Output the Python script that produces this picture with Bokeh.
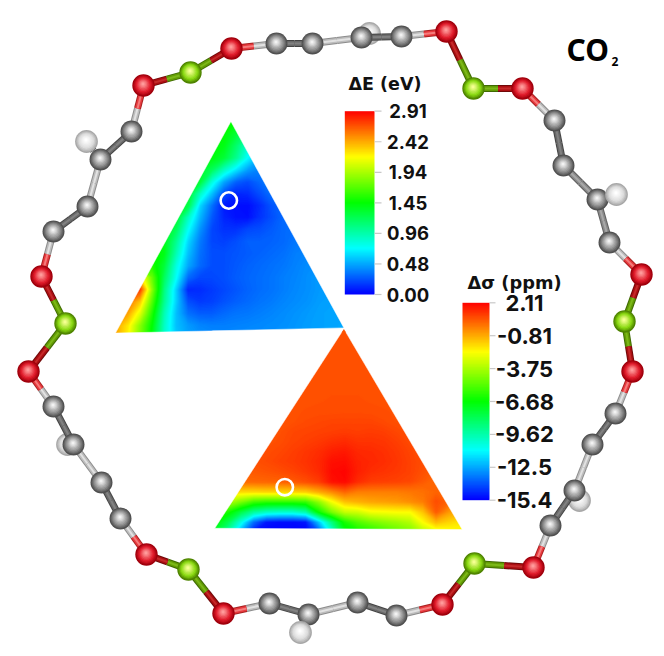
import numpy as np
from bokeh.plotting import figure
from bokeh.models import Range1d, LinearColorMapper
from bokeh.core.properties import value
from bokeh.embed import file_html
from bokeh.resources import INLINE

# ---- energy map (eV), rows top to bottom
e_x0, e_y0, e_dx, e_dy = 115, 121, 12.03, 12
e_rows = [
 [1.45]*10 + [1.45, 1.35, 1.2, 1.1, 1.0, 1.0, 1.0, 1.0, 1.0, 1.0],
 [1.45]*9 + [1.45, 1.30, 1.1, 1.0, 0.9, 0.9, 0.9, 0.9, 0.9, 0.9, 0.9],
 [1.45]*8 + [1.45, 1.40, 1.15, 0.85, 0.7, 0.7, 0.7, 0.7, 0.7, 0.7, 0.7, 0.7],
 [1.45]*8 + [1.42, 1.30, 1.05, 0.72, 0.50, 0.45, 0.45, 0.45, 0.45, 0.45, 0.45, 0.45],
 [1.45]*7 + [1.35, 1.20, 0.90, 0.66, 0.45, 0.37, 0.38, 0.38, 0.38, 0.38, 0.38, 0.38, 0.38],
 [1.4]*7 + [1.30, 0.82, 0.48, 0.28, 0.22, 0.30, 0.38, 0.38, 0.38, 0.38, 0.38, 0.38, 0.38],
 [1.4]*6 + [1.35, 0.90, 0.55, 0.22, 0.10, 0.12, 0.22, 0.32, 0.35, 0.35, 0.35, 0.35, 0.35, 0.35],
 [1.35]*6 + [1.25, 0.62, 0.32, 0.07, 0.04, 0.03, 0.12, 0.24, 0.30, 0.33, 0.33, 0.33, 0.33, 0.33],
 [1.4]*5 + [1.35, 0.90, 0.52, 0.25, 0.10, 0.05, 0.04, 0.14, 0.22, 0.30, 0.32, 0.32, 0.32, 0.32, 0.32],
 [1.45]*4 + [1.40, 1.20, 0.75, 0.42, 0.20, 0.14, 0.14, 0.20, 0.22, 0.26, 0.30, 0.32, 0.33, 0.33, 0.33, 0.33],
 [1.45]*4 + [1.40, 1.05, 0.62, 0.35, 0.20, 0.18, 0.22, 0.27, 0.27, 0.28, 0.30, 0.34, 0.35, 0.35, 0.35, 0.35],
 [1.5]*3 + [1.50, 1.40, 0.95, 0.55, 0.32, 0.22, 0.22, 0.24, 0.26, 0.28, 0.30, 0.32, 0.36, 0.38, 0.38, 0.38, 0.38],
 [1.6]*3 + [1.55, 1.30, 0.82, 0.48, 0.30, 0.22, 0.22, 0.25, 0.28, 0.30, 0.32, 0.34, 0.37, 0.40, 0.41, 0.41, 0.41],
 [2.3]*2 + [2.30, 1.75, 1.20, 0.75, 0.30, 0.20, 0.20, 0.22, 0.26, 0.29, 0.31, 0.33, 0.36, 0.38, 0.41, 0.44, 0.44, 0.44],
 [2.75]*2 + [2.75, 1.85, 1.10, 0.60, 0.10, 0.12, 0.16, 0.20, 0.24, 0.28, 0.31, 0.33, 0.36, 0.39, 0.41, 0.44, 0.45, 0.45],
 [2.6, 2.6, 2.35, 1.70, 1.05, 0.60, 0.22, 0.16, 0.18, 0.23, 0.27, 0.30, 0.33, 0.35, 0.38, 0.40, 0.42, 0.45, 0.46, 0.46],
 [2.45, 2.45, 2.10, 1.55, 0.95, 0.55, 0.32, 0.26, 0.26, 0.30, 0.33, 0.34, 0.36, 0.38, 0.40, 0.42, 0.44, 0.46, 0.47, 0.47],
 [2.45, 2.25, 1.85, 1.45, 0.90, 0.55, 0.44, 0.38, 0.36, 0.36, 0.37, 0.38, 0.39, 0.40, 0.41, 0.43, 0.45, 0.46, 0.47, 0.48],
 [2.45, 2.20, 1.80, 1.40, 0.88, 0.58, 0.47, 0.42, 0.40, 0.39, 0.39, 0.40, 0.40, 0.41, 0.42, 0.43, 0.45, 0.46, 0.47, 0.48],
]

# ---- shielding map (ppm), rows top to bottom
s_x0, s_y0, s_dx, s_dy = 214, 331, 13.04, 10
s_rows = [
 [0.72]*20,
 [0.72]*20,
 [0.72]*20,
 [0.73]*20,
 [0.74]*20,
 [0.75]*20,
 [0.76]*20,
 [0.72]*7 + [0.74, 0.76, 0.78, 0.78, 0.78, 0.76, 0.74] + [0.72]*6,
 [0.72]*6 + [0.74, 0.78, 0.80, 0.80, 0.82, 0.82, 0.80, 0.78, 0.75] + [0.72]*5,
 [0.72]*5 + [0.74, 0.75, 0.85, 0.90, 0.95, 0.95, 0.95, 0.95, 0.85, 0.75] + [0.72]*5,
 [0.72]*5 + [0.75, 0.90, 0.95, 1.00, 1.05, 1.10, 1.05, 1.10, 1.05, 0.90, 0.78] + [0.72]*4,
 [0.7]*4 + [0.70, 0.80, 0.95, 1.05, 1.15, 1.30, 1.40, 1.25, 1.25, 1.20, 1.05, 0.85, 0.75, 0.70, 0.70, 0.70],
 [0.7]*3 + [0.70, 0.80, 0.90, 1.05, 1.20, 1.35, 1.60, 1.70, 1.45, 1.40, 1.30, 1.15, 0.95, 0.75, 0.70, 0.70, 0.70],
 [0.65]*2 + [0.65, 0.75, 0.85, 1.00, 1.10, 1.25, 1.45, 1.85, 1.90, 1.55, 1.45, 1.35, 1.20, 1.00, 0.80, 0.70, 0.70, 0.70],
 [0.55]*2 + [0.55, 0.60, 0.70, 0.80, 0.95, 1.15, 1.40, 1.95, 2.05, 1.60, 1.35, 1.25, 1.15, 1.00, 0.75, 0.50, 0.50, 0.50],
 [0.2, 0.2, 0.30, 0.35, 0.40, 0.45, 0.60, 0.80, 1.10, 1.85, 2.00, 1.40, 1.10, 1.05, 1.00, 0.90, 0.60, 0.30, 0.30, 0.30],
 [-1.6, -1.6, -1.6, -1.6, -1.5, -1.5, -1.5, -1.4, -0.8, -0.2, 0.4, 0.0, 0.0, 0.0, 0.0, 0.1, 0.2, 0.4, 0.3, 0.3],
 [-4.0, -3.5, -4.5, -5.6, -5.9, -6.0, -5.9, -5.7, -4.2, -2.4, -1.2, -0.9, -0.7, -0.6, -0.5, -0.3, 0.0, 0.8, 0.4, 0.2],
 [-6.0, -6.2, -7.8, -9.3, -10.0, -10.2, -10.2, -9.6, -6.5, -4.5, -3.2, -3.0, -2.4, -2.3, -2.2, -2.2, -1.2, 0.6, -0.5, -0.8],
 [-6.5, -8.0, -10.5, -13.5, -15.0, -15.2, -15.2, -15.0, -12.0, -8.8, -6.2, -5.2, -4.6, -4.2, -3.9, -3.5, -2.2, -1.0, -1.5, -1.8],
 [-7.5, -9.5, -12.5, -15.0, -15.4, -15.4, -15.4, -15.4, -14.0, -10.5, -7.2, -6.6, -6.2, -5.6, -5.0, -4.5, -3.5, -2.8, -2.4, -2.2],
]

# ---- color bar tick labels
e_ticks = ["2.91", "2.42", "1.94", "1.45", "0.96", "0.48", "0.00"]
s_ticks = ["2.11", "-0.81", "-3.75", "-6.68", "-9.62", "-12.5", "-15.4"]

# ---- triangles: apex, bottom-left, bottom-right
e_tri_x, e_tri_y = [230.4, 115.0, 343.4], [121.0, 332.6, 327.4]
s_tri_x, s_tri_y = [343.4, 214.3, 461.7], [328.4, 527.8, 529.0]
marker_x, marker_y = [228.3, 284.3], [200.0, 486.7]

# ---- ring of atoms, clockwise
ring_x = [231, 276, 312, 361, 401, 446, 473, 522, 554, 563, 597, 609, 641, 624, 632, 615, 592, 574, 550, 533, 474, 442, 396, 357, 308, 269, 223, 188, 146, 120, 101, 73, 53, 28, 65, 41, 53, 87, 100, 131, 143, 190]
ring_y = [48, 43, 43, 37, 36, 31, 88, 88, 120, 165, 199, 242, 274, 321, 371, 413, 444, 490, 525, 567, 563, 604, 615, 602, 614, 603, 613, 569, 554, 518, 482, 444, 406, 371, 323, 276, 231, 206, 159, 131, 85, 72]
ring_el = list("OCCCCOGOCCCCOGOCCCCOGOCCCCOGOCCCCOGOCCCCOG")
# brightness of the bond that leaves each atom towards the next one
ring_shade = list("LDLDLDDLDMMLDDLDLDLDDLDLDLDDLDLDLDDLDLDLDD")
h_x, h_y = [369, 579, 67, 616, 300, 86], [33, 500, 444, 194, 632, 141]
h_parent = [3, 17, 31, 10, 24, 38]
h_front = [False, False, False, True, True, True]

CANVAS_H = 656
def Y(v):
    return CANVAS_H - np.asarray(v, dtype=float)

stops = np.array([[0, 0, 255], [0, 255, 255], [0, 255, 0], [255, 255, 0], [255, 0, 0]], dtype=float)
palette = []
for t in np.linspace(0, 1, 256):
    c = [np.interp(t, np.linspace(0, 1, 5), stops[:, k]) for k in range(3)]
    palette.append("#%02x%02x%02x" % tuple(int(round(q)) for q in c))

e_vmin, e_vmax = float(e_ticks[-1]), float(e_ticks[0])
s_vmin, s_vmax = float(s_ticks[-1]), float(s_ticks[0])
e_map = LinearColorMapper(palette=palette, low=e_vmin, high=e_vmax)
s_map = LinearColorMapper(palette=palette, low=s_vmin, high=s_vmax)

p = figure(width=660, height=650, x_range=Range1d(0, 660), y_range=Range1d(6, 656),
           toolbar_location=None, output_backend="svg", min_border=0,
           outline_line_color=None, x_axis_location=None, y_axis_location=None,
           background_fill_color="white", border_fill_color="white")
p.grid.visible = False


def heat(rows, x0, y0, dx, dy, vmin, vmax, cmap, nbands=255):
    a = np.array(rows, dtype=float)[::-1]
    ny, nx = a.shape
    xs = x0 + dx * np.arange(nx)
    ys = Y(y0 + dy * np.arange(ny))[::-1]
    # coarse cells underneath, so that seams between the bands never show white
    p.image(image=[a], x=xs[0], y=ys[0], dw=xs[-1] - xs[0], dh=ys[-1] - ys[0], color_mapper=cmap)
    span = vmax - vmin
    levels = np.linspace(vmin - 0.002 * span, vmax + 0.002 * span, nbands + 1)
    fills = [palette[int(round(i / (nbands - 1) * 255))] for i in range(nbands)]
    lines = [palette[int(round(i / nbands * 255))] for i in range(nbands + 1)]
    p.contour(xs, ys, a, levels, fill_color=fills, line_color=lines, line_width=1.1)
    return xs[0], y0, xs[-1], y0 + dy * (ny - 1)


def mask(tx, ty, box):
    L, T, R, B = box
    L, R, B = L - 2, R + 2, B + 2
    ax, ay = tx[0], ty[0]
    blx, bly = tx[1], ty[1]
    brx, bry = tx[2], ty[2]
    if T > ay:
        xl = ax + (blx - ax) * (T - ay) / (bly - ay)
        xr = ax + (brx - ax) * (T - ay) / (bry - ay)
        left = ([L, xl, xl, blx, L], [T - 0.6, T - 0.6, T, bly, bly])
        right = ([R, xr, xr, brx, R], [T - 2, T - 2, T, bry, bry])
    else:
        T = T - 2
        left = ([L, ax, ax, blx, L], [T, T, ay, bly, bly])
        right = ([R, ax, ax, brx, R], [T, T, ay, bry, bry])
    under = ([L, blx, brx, R, R, L], [bly, bly, bry, bry, B, B])
    polys = [left, right, under]
    p.patches([q[0] for q in polys], [list(Y(q[1])) for q in polys],
              fill_color="white", line_color="white", line_width=0.5)


# top triangle
box = heat(e_rows, e_x0, e_y0, e_dx, e_dy, e_vmin, e_vmax, e_map)
mask(e_tri_x, e_tri_y, box)

# bottom triangle; above the first grid row the tip has the value of that row
box = heat(s_rows, s_x0, s_y0, s_dx, s_dy, s_vmin, s_vmax, s_map)
mask(s_tri_x, s_tri_y, box)
tip_y = box[1] + 1
ax, ay = s_tri_x[0], s_tri_y[0]
tl = ax + (s_tri_x[1] - ax) * (tip_y - ay) / (s_tri_y[1] - ay)
tr = ax + (s_tri_x[2] - ax) * (tip_y - ay) / (s_tri_y[2] - ay)
tip_col = palette[int((s_rows[0][0] - s_vmin) / (s_vmax - s_vmin) * 255)]
p.patch([ax, tl, tr], list(Y([ay, tip_y, tip_y])), fill_color=tip_col, line_color=None)

# minimum markers
p.circle(marker_x, list(Y(marker_y)), radius=8.2, fill_color=None, line_color="white", line_width=2.6)


# ---- color bars
def colorbar(x0, x1, ytop, ybot, vmin, vmax, labels, cmap, tick_x1, label_x, label_size, title, title_x, title_y, title_size):
    grad = np.linspace(vmin, vmax, 256).reshape(-1, 1)
    p.image(image=[grad], x=x0, y=float(Y(ybot)), dw=x1 - x0, dh=ybot - ytop, color_mapper=cmap)
    ty = [ytop + (float(i) / (len(labels) - 1)) * (ybot - ytop) for i in range(len(labels))]
    p.segment([x1] * len(ty), list(Y(ty)), [tick_x1] * len(ty), list(Y(ty)), line_color="#c8c8c8", line_width=1.2)
    p.text([label_x] * len(ty), list(Y(ty)), text=labels, text_align="center", text_baseline="middle",
           text_font=value("Inter"), text_font_size=label_size, text_color="#111111", text_font_style="bold")
    p.text([title_x], list(Y([title_y])), text=[title], text_align="left", text_baseline="middle",
           text_font=value("DejaVu Sans"), text_font_style="bold", text_font_size=title_size, text_color="#111111")


colorbar(344.3, 374, 110.7, 294, e_vmin, e_vmax, e_ticks, e_map, 381, 407.5, "18.5px", "ΔE (eV)", 348, 83, "17.5px")
colorbar(462, 489, 302.3, 499.7, s_vmin, s_vmax, s_ticks, s_map, 495, 524, "22px", "Δσ (ppm)", 467, 282, "17.8px")

# ---- molecule
BOND = {
    ("C", "L"): ("#8c8c8c", "#bdbdbd", "#e2e2e2"),
    ("C", "M"): ("#5e5e5e", "#8a8a8a", "#a8a8a8"),
    ("C", "D"): ("#444444", "#6a6a6a", "#828282"),
    ("O", "L"): ("#a82020", "#e83a3e", "#f47c7c"),
    ("O", "D"): ("#700808", "#ac0f12", "#c42a2a"),
    ("O", "M"): ("#a82020", "#d02a2e", "#e86060"),
    ("G", "D"): ("#3f6a02", "#639c05", "#7cb818"),
}
SPHERE = {
    "C": ("#505050", "#8e8e8e", "#f2f2f2", 11.0),
    "O": ("#a0000c", "#e01a2a", "#ff9a9a", 11.2),
    "G": ("#4f8400", "#88d810", "#f4ff90", 11.2),
    "H": ("#a8a8a8", "#dcdcdc", "#ffffff", 11.4),
}


def hexrgb(h):
    return np.array([int(h[i:i + 2], 16) for i in (1, 3, 5)], dtype=float)


def mix(a, b, f):
    c = hexrgb(a) * (1 - f) + hexrgb(b) * f
    return "#%02x%02x%02x" % tuple(int(round(q)) for q in c)


def half_bond(x0, y0, x1, y1, el, shade):
    cols = BOND[(el, shade)]
    for col, w in zip(cols, (7, 5, 2)):
        p.line([x0, x1], list(Y([y0, y1])), line_color=col, line_width=w, line_cap="butt")


def sphere(xs, ys, el):
    rim, body, hi, R = SPHERE[el]
    n = 9
    xs = np.asarray(xs, dtype=float)
    ys = np.asarray(ys, dtype=float)
    for k in range(n):
        f = k / (n - 1)
        rad = R * (1 - 0.86 * f)
        col = mix(rim, body, min(1, f / 0.35)) if f < 0.35 else mix(body, hi, (f - 0.35) / 0.65)
        off = 0.14 * R * f
        p.circle(list(xs - 0.3 * off), list(Y(ys - off)), radius=rad, fill_color=col, line_color=None)


# back hydrogens
for i in range(len(h_x)):
    if not h_front[i]:
        sphere([h_x[i]], [h_y[i]], "H")

n = len(ring_x)
for i in range(n):
    j = (i + 1) % n
    mx, my = (ring_x[i] + ring_x[j]) / 2, (ring_y[i] + ring_y[j]) / 2
    half_bond(ring_x[i], ring_y[i], mx, my, ring_el[i], ring_shade[i])
    half_bond(ring_x[j], ring_y[j], mx, my, ring_el[j], ring_shade[i])

for el in "COG":
    sel = [i for i in range(n) if ring_el[i] == el]
    sphere([ring_x[i] for i in sel], [ring_y[i] for i in sel], el)

# front hydrogens with their short dark bond
for i in range(len(h_x)):
    if h_front[i]:
        c = h_parent[i]
        mx, my = (ring_x[c] + h_x[i]) / 2, (ring_y[c] + h_y[i]) / 2
        for col, w in (("#222222", 7), ("#3c3c3c", 5)):
            p.line([mx, h_x[i]], list(Y([my, h_y[i]])), line_color=col, line_width=w)
        sphere([h_x[i]], [h_y[i]], "H")

# ---- title
p.text([566], list(Y([49])), text=["CO"], text_align="left", text_baseline="middle",
       text_font=value("Noto Sans"), text_font_style="bold", text_font_size="30px", text_color="black")
p.text([611], list(Y([60.5])), text=["2"], text_align="left", text_baseline="middle",
       text_font=value("Noto Sans"), text_font_style="bold", text_font_size="12px", text_color="black")

open("out.html", "w").write(file_html(p, INLINE))
